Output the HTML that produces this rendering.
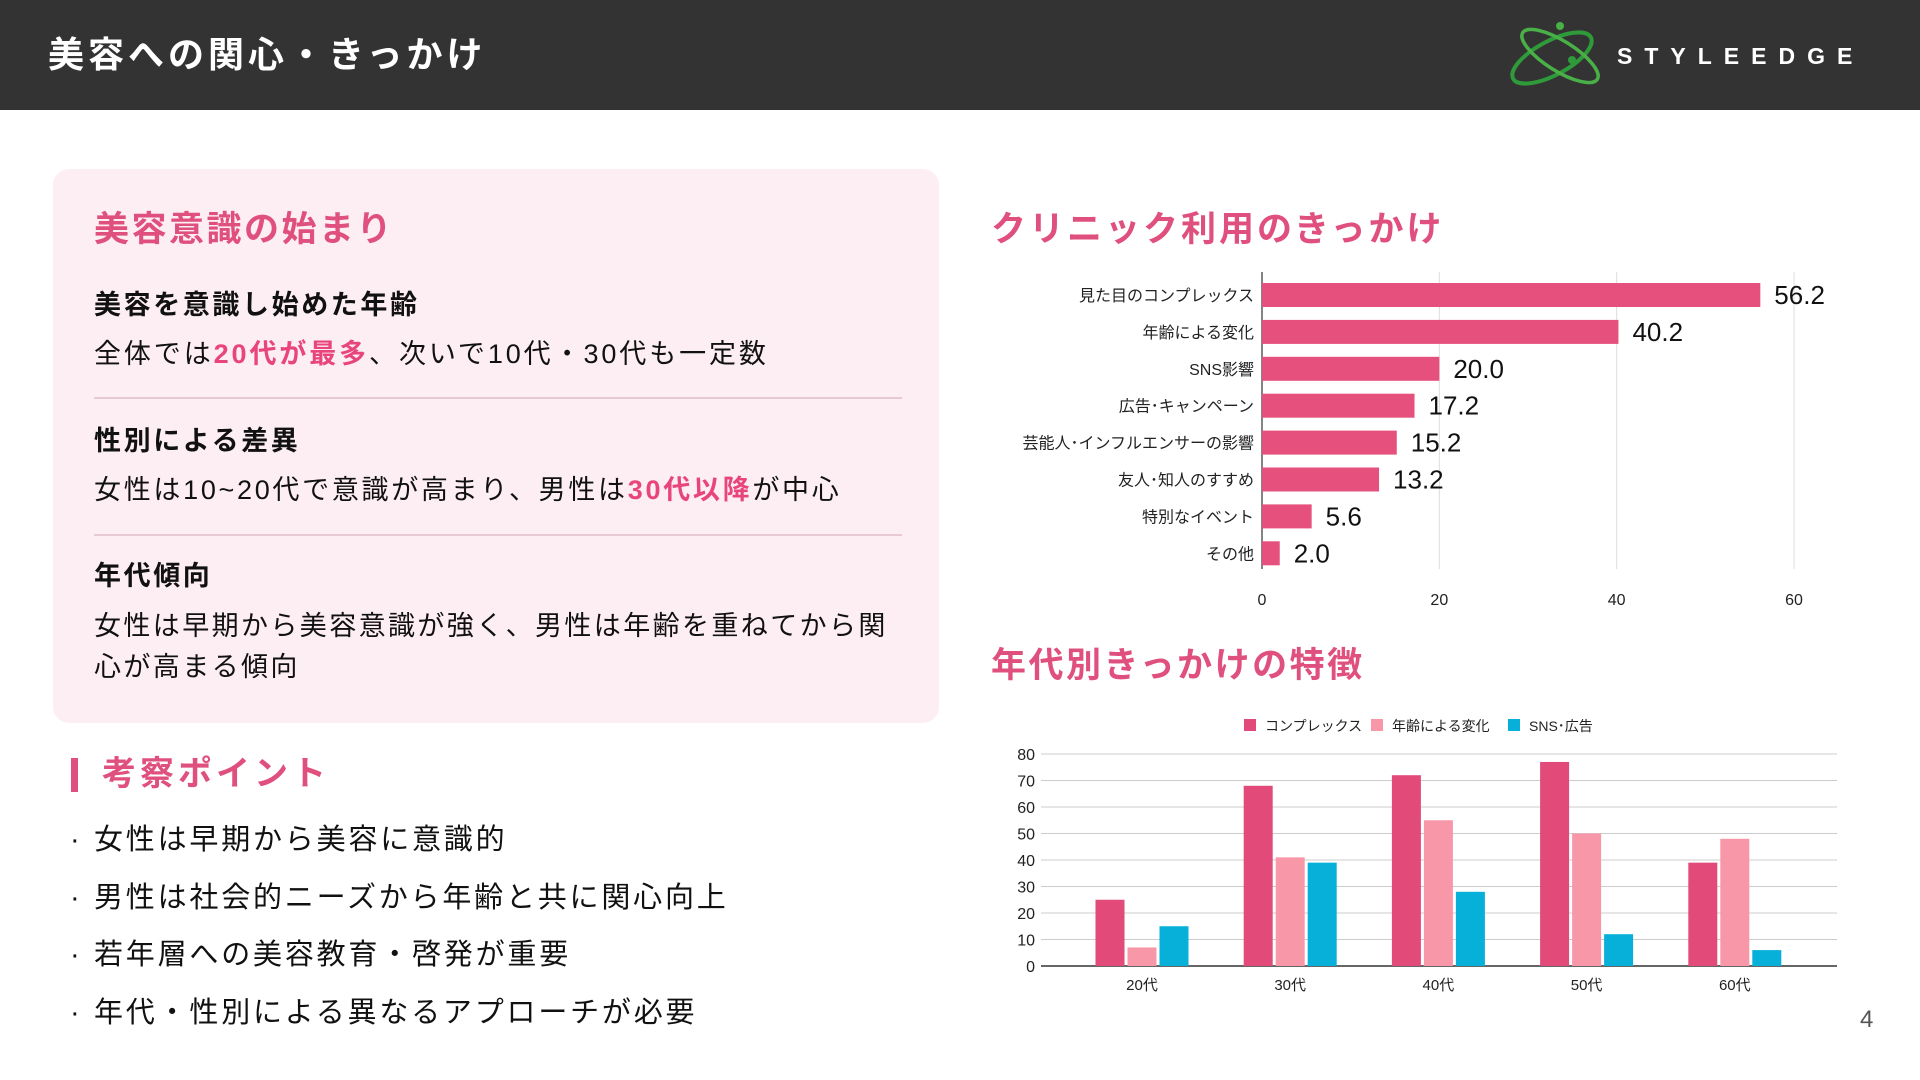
<!DOCTYPE html>
<html><head><meta charset="utf-8">
<style>
*{margin:0;padding:0;box-sizing:border-box}
body{width:1920px;height:1080px;background:#fff;position:relative;overflow:hidden;font-family:"Liberation Sans","Noto Sans CJK JP",sans-serif;color:#111}
.abs{position:absolute;white-space:nowrap}
#header{left:0;top:0;width:1920px;height:110px;background:#333333}
.pink{color:#e0507f}
.hl{color:#e8457c;font-weight:bold}
.dot{position:absolute;left:-24px}
</style></head><body>
<div id="header" class="abs"></div>
<div class="abs" style="left:48px;top:33px;font-size:36px;color:#fff;font-weight:bold;letter-spacing:4px;line-height:44px">美容への関心・きっかけ</div>
<svg class="abs" style="left:1500px;top:20px" width="110" height="70" viewBox="0 0 110 70">
<ellipse cx="52" cy="38" rx="44" ry="17" transform="rotate(-28 52 38)" fill="none" stroke="#2e9a3a" stroke-width="4"/>
<ellipse cx="60" cy="36" rx="44" ry="15" transform="rotate(32 60 36)" fill="none" stroke="#49b047" stroke-width="3.5"/>
<circle cx="60" cy="6" r="4" fill="#49b047"/><circle cx="72" cy="40" r="4" fill="#2e9a3a"/>
</svg>
<div class="abs" style="left:1617px;top:42px;font-size:23px;font-weight:bold;color:#fff;letter-spacing:12px;line-height:28px">STYLEEDGE</div>

<div class="abs" style="left:53px;top:169px;width:886px;height:554px;background:#fdeef3;border-radius:16px"></div>
<div class="abs pink" style="left:94px;top:208px;font-size:35px;font-weight:bold;letter-spacing:2.5px;line-height:44px">美容意識の始まり</div>
<div class="abs" style="left:94px;top:288px;font-size:27px;font-weight:bold;letter-spacing:2.6px;line-height:34px">美容を意識し始めた年齢</div>
<div class="abs" style="left:94px;top:337px;font-size:27px;letter-spacing:2.9px;line-height:34px">全体では<span class="hl">20代が最多</span>、次いで10代・30代も一定数</div>
<div class="abs" style="left:94px;top:397px;width:808px;height:2px;background:#e8c9d2"></div>
<div class="abs" style="left:94px;top:424px;font-size:27px;font-weight:bold;letter-spacing:2.6px;line-height:34px">性別による差異</div>
<div class="abs" style="left:94px;top:473px;font-size:27px;letter-spacing:2.7px;line-height:34px">女性は10~20代で意識が高まり、男性は<span class="hl">30代以降</span>が中心</div>
<div class="abs" style="left:94px;top:534px;width:808px;height:2px;background:#e8c9d2"></div>
<div class="abs" style="left:94px;top:559px;font-size:27px;font-weight:bold;letter-spacing:2.6px;line-height:34px">年代傾向</div>
<div class="abs" style="left:94px;top:606px;font-size:27px;letter-spacing:2.4px;line-height:41px">女性は早期から美容意識が強く、男性は年齢を重ねてから関<br>心が高まる傾向</div>

<div class="abs" style="left:71px;top:758px;width:7px;height:34px;background:#e0507f"></div>
<div class="abs pink" style="left:102px;top:753px;font-size:34px;font-weight:bold;letter-spacing:4px;line-height:42px">考察ポイント</div>
<div class="abs" style="left:94px;top:822px;font-size:29px;letter-spacing:2.8px;line-height:36px"><span class="dot">·</span>女性は早期から美容に意識的</div>
<div class="abs" style="left:94px;top:880px;font-size:29px;letter-spacing:2.8px;line-height:36px"><span class="dot">·</span>男性は社会的ニーズから年齢と共に関心向上</div>
<div class="abs" style="left:94px;top:937px;font-size:29px;letter-spacing:2.8px;line-height:36px"><span class="dot">·</span>若年層への美容教育・啓発が重要</div>
<div class="abs" style="left:94px;top:995px;font-size:29px;letter-spacing:2.8px;line-height:36px"><span class="dot">·</span>年代・性別による異なるアプローチが必要</div>
<div class="abs" style="left:1860px;top:1006px;font-size:24px;color:#555;line-height:28px">4</div>

<div class="abs pink" style="left:991px;top:208px;font-size:35px;font-weight:bold;letter-spacing:3px;line-height:44px">クリニック利用のきっかけ</div>
<div class="abs pink" style="left:991px;top:644px;font-size:35px;font-weight:bold;letter-spacing:2.5px;line-height:44px">年代別きっかけの特徴</div>

<svg id="bar" class="abs" style="left:0;top:0" width="1920" height="1080"></svg>

<script>
const reasonLabels=["見た目のコンプレックス","年齢による変化","SNS影響","広告･キャンペーン","芸能人･インフルエンサーの影響","友人･知人のすすめ","特別なイベント","その他"];
const reasonValues=[56.2,40.2,20.0,17.2,15.2,13.2,5.6,2.0];
const reasonTicks=[0,20,40,60];
const ageCats=["20代","30代","40代","50代","60代"];
const complexVals=[25,68,72,77,39];
const agingVals=[7,41,55,50,48];
const snsVals=[15,39,28,12,6];
const seriesNames=["コンプレックス","年齢による変化","SNS･広告"];
const colTicks=[0,10,20,30,40,50,60,70,80];

const NS="http://www.w3.org/2000/svg";
const svg=document.getElementById('bar');
function mk(tag,attrs,parent){const e=document.createElementNS(NS,tag);for(const k in attrs)e.setAttribute(k,attrs[k]);(parent||svg).appendChild(e);return e;}
const F='"Liberation Sans","Noto Sans CJK JP",sans-serif';

const bx=v=>1262+v*(1794-1262)/60;
const rowY=i=>295+i*36.9;
reasonTicks.forEach(t=>{
  const g=mk('line',{x1:bx(t),x2:bx(t),y1:272,y2:569,stroke:t===0?'#333':'#ddd','stroke-width':t===0?1.2:1});
  
  
  const tx=mk('text',{x:bx(t),y:605,'text-anchor':'middle','font-size':16,fill:'#222','font-family':F});tx.textContent=t;
  
  
});
reasonValues.forEach((v,i)=>{
  const y=rowY(i);
  const r=mk('rect',{x:bx(0),y:y-12,width:bx(v)-bx(0),height:24,fill:'#e5507c'});
  
  
  const l=mk('text',{x:1254,y:y+6,'text-anchor':'end','font-size':16,fill:'#222','font-family':F});l.textContent=reasonLabels[i];
  
  
  const vt=mk('text',{x:bx(v)+14,y:y+9,'font-size':26,fill:'#111','font-family':F});vt.textContent=v.toFixed(1);
  
  
});

const cy=v=>966-v*(966-754)/80;
const cx=i=>1142+i*148.2;
colTicks.forEach(t=>{
  const g=mk('line',{x1:1041,x2:1837,y1:cy(t),y2:cy(t),stroke:t===0?'#333':'#ccc','stroke-width':t===0?1.5:1});
  
  
  const tx=mk('text',{x:1035,y:cy(t)+6,'text-anchor':'end','font-size':16,fill:'#222','font-family':F});tx.textContent=t;
  
  
});
const series=[complexVals,agingVals,snsVals];
const colors=['#e24a7a','#f897a8','#06b0d8'];
const bw=29,gap=3;
series.forEach((vals,s)=>{
  vals.forEach((v,i)=>{
    const x=cx(i)+(s-1)*(bw+gap)-bw/2;
    const r=mk('rect',{x:x,y:cy(v),width:bw,height:cy(0)-cy(v),fill:colors[s]});
    
    
  });
});
ageCats.forEach((c,i)=>{
  const t=mk('text',{x:cx(i),y:990,'text-anchor':'middle','font-size':15,fill:'#222','font-family':F});t.textContent=c;
  
  
});
const legX=[1244,1371,1508];
seriesNames.forEach((n,s)=>{
  const r=mk('rect',{x:legX[s],y:719,width:12,height:12,fill:colors[s]});
  
  
  const t=mk('text',{x:legX[s]+21,y:731,'font-size':14,fill:'#222','font-family':F});t.textContent=n;
  
  
});
</script>
</body></html>
